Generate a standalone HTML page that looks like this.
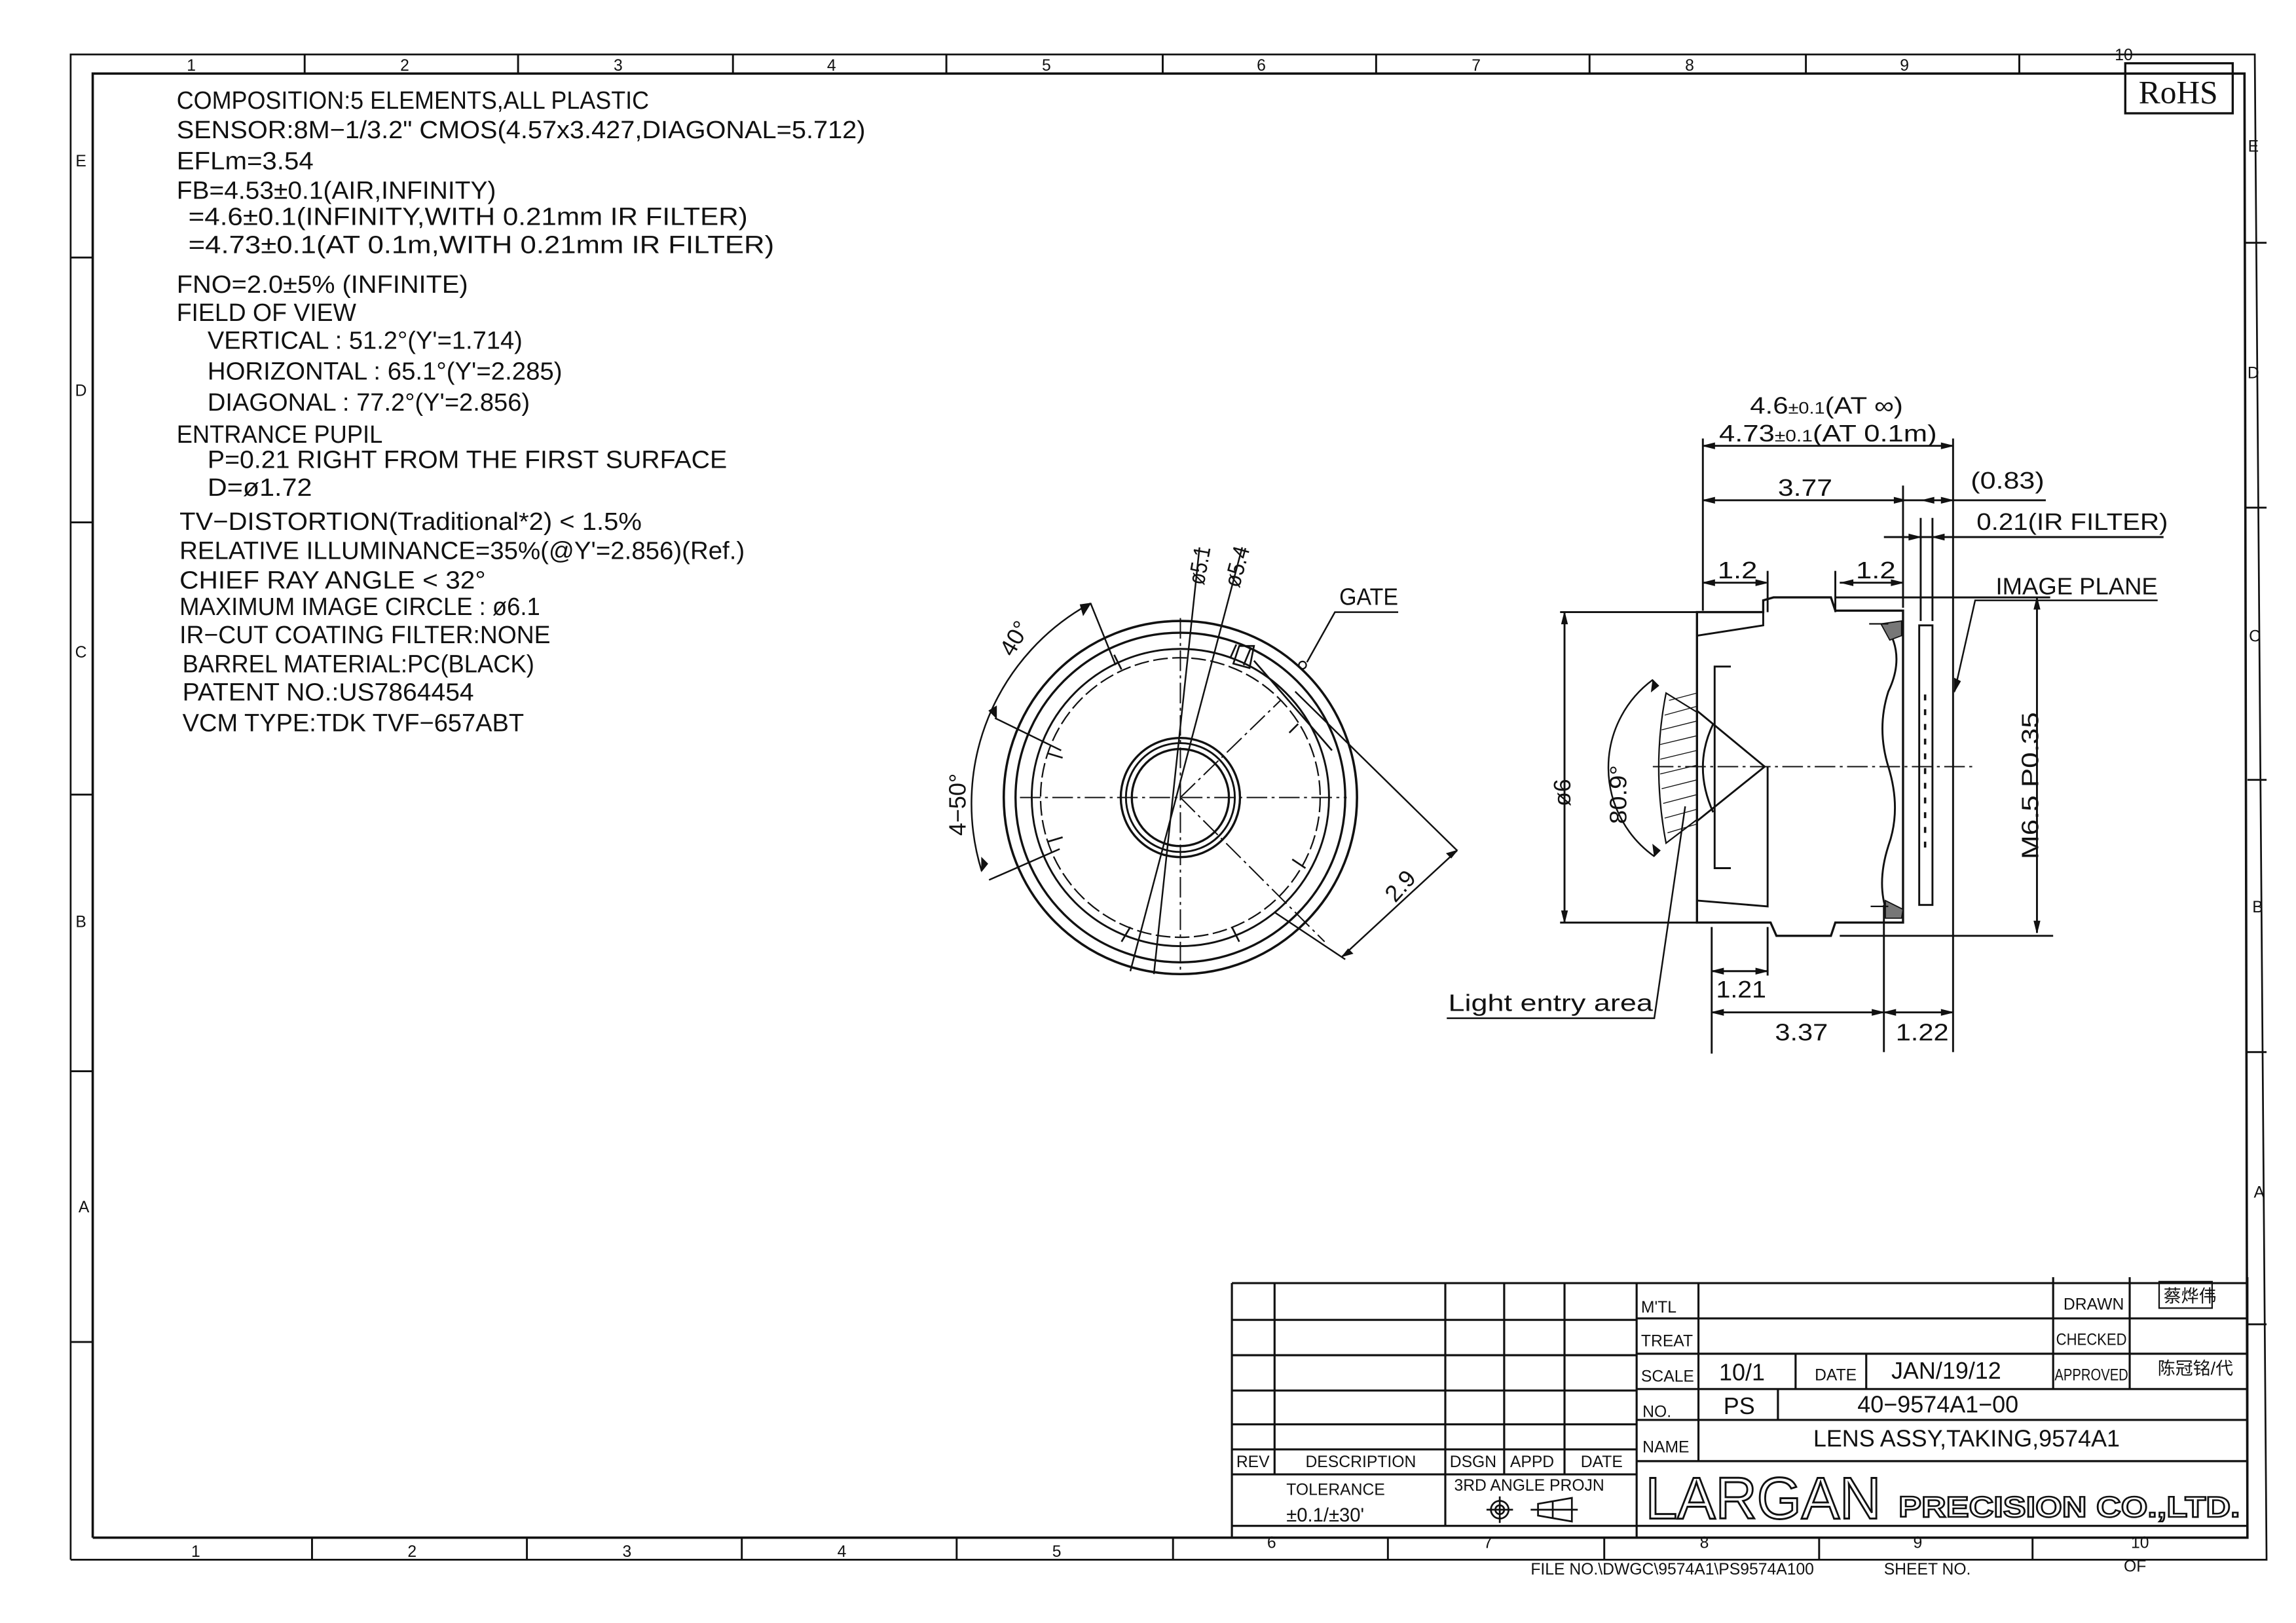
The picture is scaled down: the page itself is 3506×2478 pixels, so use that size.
<!DOCTYPE html>
<html><head><meta charset="utf-8"><style>
html,body{margin:0;padding:0;background:#fff;}
svg{display:block;}
text{font-family:"Liberation Sans","Noto Sans CJK SC",sans-serif;fill:#111;}
</style></head><body>
<svg xmlns="http://www.w3.org/2000/svg" width="3506" height="2478" viewBox="0 0 1560 1103" preserveAspectRatio="none">
<rect width="1560" height="1103" fill="#fff"/>
<g stroke="#111" fill="none" stroke-width="1.3">
<polyline points="48,1060 48,37 1532,37 1540,1060 48,1060" stroke-width="1.2"/>
<polyline points="63,1045 63,50 1525,50 1527,1045 63,1045" stroke-width="1.6"/>
<path d="M207,37V50M352,37V50M498,37V50M643,37V50M790,37V50M935,37V50M1080,37V50M1227,37V50M1372,37V50"/>
<path d="M212,1045V1060M358,1045V1060M504,1045V1060M650,1045V1060M797,1045V1060M943,1045V1060M1090,1045V1060M1236,1045V1060M1381,1045V1060"/>
<path d="M48,175H63M48,355H63M48,540H63M48,728H63M48,912H63"/>
<path d="M1525,165H1540M1525,345H1540M1527,530H1540M1527,715H1540M1527,900H1540"/>
<rect x="1444" y="43" width="73" height="34" stroke-width="1.5"/>
</g>
<g font-size="11" text-anchor="middle">
<text x="130" y="48">1</text><text x="275" y="48">2</text><text x="420" y="48">3</text><text x="565" y="48">4</text><text x="711" y="48">5</text><text x="857" y="48">6</text><text x="1003" y="48">7</text><text x="1148" y="48">8</text><text x="1294" y="48">9</text><text x="1443" y="41">10</text>
<text x="133" y="1058">1</text><text x="280" y="1058">2</text><text x="426" y="1058">3</text><text x="572" y="1058">4</text><text x="718" y="1058">5</text><text x="864" y="1052">6</text><text x="1011" y="1052">7</text><text x="1158" y="1052">8</text><text x="1303" y="1052">9</text><text x="1454" y="1052">10</text>
<text x="55" y="113">E</text><text x="55" y="269">D</text><text x="55" y="447">C</text><text x="55" y="630">B</text><text x="57" y="824">A</text>
<text x="1531" y="103">E</text><text x="1531" y="257">D</text><text x="1532" y="436">C</text><text x="1534" y="620">B</text><text x="1535" y="814">A</text>
</g>
<text x="1480" y="70" font-size="22" text-anchor="middle" style="font-family:'Liberation Serif',serif">RoHS</text>

<g font-size="17">
<text x="120" y="74" textLength="321" lengthAdjust="spacingAndGlyphs">COMPOSITION:5  ELEMENTS,ALL  PLASTIC</text>
<text x="120" y="94" textLength="468" lengthAdjust="spacingAndGlyphs">SENSOR:8M−1/3.2"  CMOS(4.57x3.427,DIAGONAL=5.712)</text>
<text x="120" y="115" textLength="93" lengthAdjust="spacingAndGlyphs">EFLm=3.54</text>
<text x="120" y="135" textLength="217" lengthAdjust="spacingAndGlyphs">FB=4.53±0.1(AIR,INFINITY)</text>
<text x="128" y="153" textLength="380" lengthAdjust="spacingAndGlyphs">=4.6±0.1(INFINITY,WITH  0.21mm  IR  FILTER)</text>
<text x="128" y="172" textLength="398" lengthAdjust="spacingAndGlyphs">=4.73±0.1(AT  0.1m,WITH  0.21mm  IR  FILTER)</text>
<text x="120" y="199" textLength="198" lengthAdjust="spacingAndGlyphs">FNO=2.0±5%  (INFINITE)</text>
<text x="120" y="218" textLength="122" lengthAdjust="spacingAndGlyphs">FIELD  OF  VIEW</text>
<text x="141" y="237" textLength="214" lengthAdjust="spacingAndGlyphs">VERTICAL : 51.2°(Y'=1.714)</text>
<text x="141" y="258" textLength="241" lengthAdjust="spacingAndGlyphs">HORIZONTAL : 65.1°(Y'=2.285)</text>
<text x="141" y="279" textLength="219" lengthAdjust="spacingAndGlyphs">DIAGONAL : 77.2°(Y'=2.856)</text>
<text x="120" y="301" textLength="140" lengthAdjust="spacingAndGlyphs">ENTRANCE  PUPIL</text>
<text x="141" y="318" textLength="353" lengthAdjust="spacingAndGlyphs">P=0.21  RIGHT  FROM  THE  FIRST  SURFACE</text>
<text x="141" y="337" textLength="71" lengthAdjust="spacingAndGlyphs">D=ø1.72</text>
<text x="122" y="360" textLength="314" lengthAdjust="spacingAndGlyphs">TV−DISTORTION(Traditional*2)  &lt;  1.5%</text>
<text x="122" y="380" textLength="384" lengthAdjust="spacingAndGlyphs">RELATIVE  ILLUMINANCE=35%(@Y'=2.856)(Ref.)</text>
<text x="122" y="400" textLength="208" lengthAdjust="spacingAndGlyphs">CHIEF  RAY  ANGLE  &lt;  32°</text>
<text x="122" y="418" textLength="245" lengthAdjust="spacingAndGlyphs">MAXIMUM  IMAGE  CIRCLE : ø6.1</text>
<text x="122" y="437" textLength="252" lengthAdjust="spacingAndGlyphs">IR−CUT  COATING  FILTER:NONE</text>
<text x="124" y="457" textLength="239" lengthAdjust="spacingAndGlyphs">BARREL  MATERIAL:PC(BLACK)</text>
<text x="124" y="476" textLength="198" lengthAdjust="spacingAndGlyphs">PATENT  NO.:US7864454</text>
<text x="124" y="497" textLength="232" lengthAdjust="spacingAndGlyphs">VCM  TYPE:TDK  TVF−657ABT</text>
</g>

<!-- FRONT VIEW -->
<g stroke="#111" fill="none" stroke-width="1.3">
<circle cx="802" cy="542" r="120" stroke-width="1.6"/>
<circle cx="802" cy="542" r="112" stroke-width="1.5"/>
<circle cx="802" cy="542" r="101"/>
<circle cx="802" cy="542" r="95" stroke-dasharray="10,3" stroke-width="1"/>
<circle cx="802" cy="542" r="40.5" stroke-width="1.5"/>
<circle cx="802" cy="542" r="37"/>
<circle cx="802" cy="542" r="33" stroke-width="1.5"/>
<g stroke-width="1.2">
<path d="M757,445l5,10M882,492l-6,6M712,512l10,3M712,572l10,-3M762,640l6,-10M842,640l-5,-10M887,590l-9,-6M840,438l-4,9M850,440l-5,12"/>
</g>
<path d="M842,439 l10,0 l-3,15 l-11,-3z" stroke-width="1.2"/>
<path d="M852,449 L905,510" stroke-width="1.2"/>
<path d="M693,542H915M802,420V662M802,542L870,476M802,542L900,640" stroke-dasharray="14,3,2,3" stroke-width="0.9"/>
<path d="M815,372L784,662M844,372L768,660" stroke-width="1.1"/>
<path d="M741,410 A155,155 0 0 0 667,592" stroke-width="1.1"/>
<path d="M741,410L758,452M676,488L721,510M672,598L720,577" stroke-width="1.1"/>
<path d="M741,410l-5,8l-2,-7zM677,480l0,8l-5,-5zM667,592l0,-9l4,4z" fill="#111" stroke-width="0.6"/>
<path d="M880,470L990,578M866,620L914,652M990,578L912,650" stroke-width="1.1"/>
<path d="M990,578l-7,2l3,3zM912,650l7,-2l-3,-3z" fill="#111" stroke-width="0.6"/>
<path d="M950,416H907L888,450" stroke-width="1.1"/>
<circle cx="885" cy="452" r="2.5" stroke-width="1"/>
</g>
<g font-size="16">
<text x="910" y="411" textLength="40" lengthAdjust="spacingAndGlyphs">GATE</text>
<text transform="translate(818,398) rotate(-80)" textLength="26" lengthAdjust="spacingAndGlyphs">ø5.1</text>
<text transform="translate(842,400) rotate(-75)" textLength="28" lengthAdjust="spacingAndGlyphs">ø5.4</text>
<text transform="translate(688,447) rotate(-60)">40°</text>
<text transform="translate(656,568) rotate(-90)">4−50°</text>
<text transform="translate(948,614) rotate(-48)">2.9</text>
</g>

<!-- SIDE VIEW -->
<g stroke="#111" fill="none" stroke-width="1.3">
<path d="M1153,416 L1198,416 L1198,408 L1205,406 L1244,406 L1247,415 L1293,415 L1293,627 L1247,627 L1244,636 L1207,636 L1203,627 L1153,627 Z" stroke-width="1.5"/>
<path d="M1153,432 L1198,425 L1198,416"/>
<path d="M1153,612 L1201,616 L1201,521"/>
<path d="M1176,453 L1165,453 L1165,590 L1176,590"/>
<path d="M1153,483 L1199,521 L1153,558"/>
<path d="M1164,492 Q1150,521 1164,552"/>
<path d="M1132,471 Q1122,521 1132,573 L1153,557 L1153,484 Z" stroke-width="1"/>
<g stroke-width="0.6">
<path d="M1134,476l19,-5M1131,486l22,-6M1129,496l24,-6M1128,506l25,-6M1128,516l25,-6M1128,526l25,-6M1129,536l24,-6M1130,546l23,-6M1131,556l22,-6M1133,566l20,-6"/>
</g>
<path d="M1281,425 Q1295,445 1283,470 Q1275,495 1283,521 Q1292,550 1283,575 Q1275,600 1282,620"/>
<path d="M1278,424 L1292,422 L1292,432 L1284,435 Z M1281,612 L1293,618 L1292,624 L1281,624 Z" fill="#777" stroke-width="0.8"/>
<path d="M1270,424H1283M1271,616H1283" stroke-width="1"/>
<rect x="1304" y="425" width="9" height="190" stroke-width="1.3"/>
<path d="M1308,472v4M1308,482v4M1308,492v4M1308,502v4M1308,512v4M1308,522v4M1308,532v4M1308,542v4M1308,552v4M1308,562v4M1308,572v4" stroke-width="1.6"/>
<path d="M1123,521H1340" stroke-dasharray="14,3,2,3" stroke-width="0.9"/>
<path d="M1157,298V415M1293,330V413M1327,298V715M1305,352V422M1313,352V422M1201,388V416M1247,388V416"/>
<path d="M1163,630V716M1201,630V663M1280,615V715"/>
<path d="M1060,416H1153M1060,627H1153M1247,406H1393M1250,636H1395"/>
<path d="M1157,303H1327M1157,340H1295M1295,340H1390M1280,365H1470M1157,396H1200M1250,396H1293M1063,416V627M1384,406V634M1163,660H1201M1163,688H1280M1280,688H1327"/>
<path d="M1157,303l8,-2v4zM1327,303l-8,-2v4zM1157,340l8,-2v4zM1295,340l-8,-2v4zM1306,340l8,-2v4zM1327,340l-8,-2v4zM1305,365l-8,-2v4zM1313,365l8,-2v4zM1157,396l8,-2v4zM1201,396l-8,-2v4zM1251,396l8,-2v4zM1293,396l-8,-2v4zM1063,416l-2,8h4zM1063,627l-2,-8h4zM1384,406l-2,8h4zM1384,634l-2,-8h4zM1163,660l8,-2v4zM1201,660l-8,-2v4zM1163,688l8,-2v4zM1280,688l-8,-2v4zM1280,688l8,-2v4zM1327,688l-8,-2v4z" fill="#111" stroke-width="0.5"/>
<path d="M1123,462 A74,74 0 0 0 1124,582" stroke-width="1.1"/>
<path d="M1123,462l-1,8l5,-4zM1124,582l-1,-8l5,4z" fill="#111" stroke-width="0.5"/>
<path d="M1466,408H1342L1328,470" stroke-width="1.1"/>
<path d="M1328,470l0,-9l4,2z" fill="#111" stroke-width="0.5"/>
<path d="M983,692H1124L1145,548" stroke-width="1.1"/>
</g>
<g font-size="16">
<text x="1189" y="281" textLength="104" lengthAdjust="spacingAndGlyphs">4.6<tspan font-size="11">±0.1</tspan>(AT  ∞)</text>
<text x="1168" y="300" textLength="148" lengthAdjust="spacingAndGlyphs">4.73<tspan font-size="11">±0.1</tspan>(AT  0.1m)</text>
<text x="1208" y="337" textLength="37" lengthAdjust="spacingAndGlyphs">3.77</text>
<text x="1339" y="332" textLength="50" lengthAdjust="spacingAndGlyphs">(0.83)</text>
<text x="1343" y="360" textLength="130" lengthAdjust="spacingAndGlyphs">0.21(IR  FILTER)</text>
<text x="1167" y="393" textLength="27" lengthAdjust="spacingAndGlyphs">1.2</text>
<text x="1261" y="393" textLength="27" lengthAdjust="spacingAndGlyphs">1.2</text>
<text x="1356" y="404" textLength="110" lengthAdjust="spacingAndGlyphs">IMAGE  PLANE</text>
<text transform="translate(1067,548) rotate(-90)">ø6</text>
<text transform="translate(1105,560) rotate(-90)" textLength="40" lengthAdjust="spacingAndGlyphs">80.9°</text>
<text transform="translate(1385,584) rotate(-90)" textLength="100" lengthAdjust="spacingAndGlyphs">M6.5  P0.35</text>
<text x="1166" y="678" textLength="34" lengthAdjust="spacingAndGlyphs">1.21</text>
<text x="1206" y="707" textLength="36" lengthAdjust="spacingAndGlyphs">3.37</text>
<text x="1288" y="707" textLength="36" lengthAdjust="spacingAndGlyphs">1.22</text>
<text x="984" y="687" textLength="139" lengthAdjust="spacingAndGlyphs">Light  entry  area</text>
</g>

<!-- TITLE BLOCK -->
<g stroke="#111" fill="none" stroke-width="1.4">
<path d="M837,872H1527M837,1037H1527M837,872V1045M1527,868V1037"/>
<path d="M837,897H1112M837,921H1112M837,945H1112M837,968H1112M837,985H1112M837,1002H1112"/>
<path d="M866,872V1002M982,872V1037M1022,872V1002M1063,872V1002M1112,872V1045"/>
<path d="M1112,896H1527M1112,920H1527M1112,944H1395M1395,944H1527M1112,965H1527M1112,993H1527"/>
<path d="M1154,872V993M1395,868V944M1447,868V944M1220,920V944M1268,920V944M1208,944V965"/>
</g>
<g font-size="11">
<text x="1115" y="892">M'TL</text><text x="1115" y="915">TREAT</text><text x="1115" y="939">SCALE</text><text x="1116" y="963">NO.</text><text x="1116" y="987">NAME</text>
<text x="1402" y="890">DRAWN</text><text x="1397" y="914" textLength="48" lengthAdjust="spacingAndGlyphs">CHECKED</text><text x="1396" y="938" textLength="50" lengthAdjust="spacingAndGlyphs">APPROVED</text>
<text x="1233" y="938">DATE</text>
<text x="840" y="997">REV</text><text x="887" y="997">DESCRIPTION</text><text x="985" y="997">DSGN</text><text x="1026" y="997">APPD</text><text x="1074" y="997">DATE</text>
<text x="874" y="1016">TOLERANCE</text><text x="988" y="1013">3RD ANGLE PROJN</text>
<text x="1470" y="885" font-size="12">蔡烨伟</text><text x="1466" y="934" font-size="12">陈冠铭/代</text>
</g>
<rect x="1467" y="871" width="36" height="18" fill="none" stroke="#111" stroke-width="1"/>
<g font-size="16">
<text x="1168" y="938">10/1</text><text x="1285" y="937">JAN/19/12</text>
<text x="1171" y="961">PS</text><text x="1262" y="960">40−9574A1−00</text>
<text x="1232" y="983">LENS  ASSY,TAKING,9574A1</text>
<text x="874" y="1034" font-size="13">±0.1/±30'</text>
</g>
<g stroke="#111" fill="none" stroke-width="1.2">
<circle cx="1019" cy="1026" r="6"/><circle cx="1019" cy="1026" r="3"/><path d="M1010,1026h18M1019,1017v18"/>
<path d="M1045,1022L1068,1018V1034L1045,1030ZM1040,1026H1072M1055,1020V1032"/>
</g>
<text x="1118" y="1032" font-size="40" stroke="#111" stroke-width="1.3" textLength="160" lengthAdjust="spacingAndGlyphs" style="fill:none">LARGAN</text>
<text x="1290" y="1031" font-size="20" stroke="#111" stroke-width="1.1" font-weight="bold" textLength="232" lengthAdjust="spacingAndGlyphs" style="fill:none">PRECISION CO.,LTD.</text>
<text x="1040" y="1070" font-size="11">FILE  NO.\DWGC\9574A1\PS9574A100</text>
<text x="1280" y="1070" font-size="11">SHEET  NO.</text>
<text x="1443" y="1068" font-size="11">OF</text>
</svg>
</body></html>
